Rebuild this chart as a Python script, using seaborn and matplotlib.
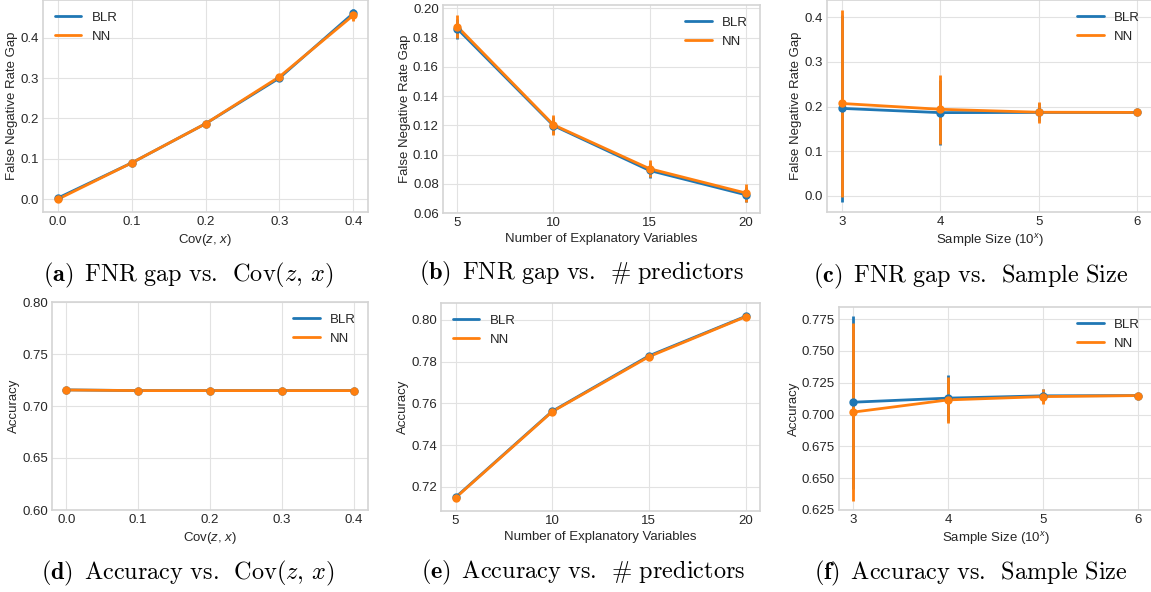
import numpy as np
import pandas as pd
import matplotlib
matplotlib.use("Agg")
import matplotlib.pyplot as plt
import seaborn as sns

sns.set_style("whitegrid")
plt.rcParams.update({
    'font.family': ['Liberation Sans', 'DejaVu Sans'],
    'mathtext.fontset': 'custom',
    'mathtext.it': 'Liberation Sans:italic',
    'mathtext.rm': 'Liberation Sans',
    'font.size': 9.5,
    'axes.labelsize': 9.5,
    'xtick.labelsize': 9.5,
    'ytick.labelsize': 9.5,
    'legend.fontsize': 9.5,
    'axes.edgecolor': '#d4d4d4',
    'grid.color': '#e2e2e2',
})

BLUE = '#1f77b4'
ORANGE = '#ff7f0e'

# x values
cov = [0.0, 0.1, 0.2, 0.3, 0.4]
n_vars = [5, 10, 15, 20]
log_n = [3, 4, 5, 6]

# FNR gap
fnr_cov_blr = [0.003, 0.090, 0.187, 0.300, 0.460]
fnr_cov_blr_err = [0.003, 0.003, 0.003, 0.005, 0.010]
fnr_cov_nn = [0.000, 0.090, 0.187, 0.303, 0.455]
fnr_cov_nn_err = [0.003, 0.003, 0.004, 0.006, 0.014]

fnr_vars_blr = [0.1860, 0.1198, 0.0891, 0.0725]
fnr_vars_blr_err = [0.0070, 0.0060, 0.0050, 0.0050]
fnr_vars_nn = [0.1875, 0.1203, 0.0903, 0.0737]
fnr_vars_nn_err = [0.0077, 0.0070, 0.0060, 0.0060]

fnr_size_blr = [0.196, 0.1865, 0.187, 0.187]
fnr_size_blr_err = [0.209, 0.072, 0.020, 0.003]
fnr_size_nn = [0.207, 0.194, 0.1874, 0.187]
fnr_size_nn_err = [0.209, 0.077, 0.024, 0.003]

# Accuracy
acc_cov_blr = [0.7155, 0.7148, 0.7148, 0.7148, 0.7148]
acc_cov_blr_err = [0.0005, 0.0005, 0.0005, 0.0005, 0.0005]
acc_cov_nn = [0.7154, 0.7148, 0.7148, 0.7148, 0.7148]
acc_cov_nn_err = [0.0005, 0.0005, 0.0005, 0.0005, 0.0005]

acc_vars_blr = [0.7150, 0.7562, 0.7827, 0.8016]
acc_vars_blr_err = [0.0010, 0.0010, 0.0010, 0.0008]
acc_vars_nn = [0.7148, 0.7560, 0.7823, 0.8014]
acc_vars_nn_err = [0.0010, 0.0010, 0.0010, 0.0008]

acc_size_blr = [0.7097, 0.7129, 0.7147, 0.7149]
acc_size_blr_err = [0.068, 0.018, 0.005, 0.001]
acc_size_nn = [0.7019, 0.7115, 0.7141, 0.7149]
acc_size_nn_err = [0.070, 0.018, 0.006, 0.001]

W, H = 1151, 592
fig = plt.figure(figsize=(W / 100, H / 100), dpi=100)


def add_ax(left, top, right, bottom):
    return fig.add_axes([left / W, 1 - bottom / H, (right - left) / W, (bottom - top) / H])


def panel(ax, x, blr, blr_err, nn, nn_err, xlabel, ylabel, ylim, yticks, xticks, legend_loc):
    df = pd.DataFrame({
        'x': list(x) * 2,
        'value': list(blr) + list(nn),
        'model': ['BLR'] * len(x) + ['NN'] * len(x),
    })
    sns.lineplot(data=df, x='x', y='value', hue='model', palette=[BLUE, ORANGE],
                 lw=2, errorbar=None, ax=ax)
    handles, labels = ax.get_legend_handles_labels()
    ax.errorbar(x, blr, yerr=blr_err, fmt='o', color=BLUE, ms=5, elinewidth=2, capsize=0)
    ax.errorbar(x, nn, yerr=nn_err, fmt='o', color=ORANGE, ms=5, elinewidth=2, capsize=0)
    ax.legend(handles, labels, loc=legend_loc, frameon=False, handlelength=2.0)
    ax.set_xlabel(xlabel, labelpad=3)
    ax.set_ylabel(ylabel, labelpad=1.5)
    ax.set_xticks(xticks)
    ax.set_yticks(yticks)
    ax.set_ylim(*ylim)
    ax.tick_params(colors='#262626', length=0, pad=3)
    for s in ax.spines.values():
        s.set_linewidth(1.2)


ax = add_ax(43, 0, 368, 212)
panel(ax, cov, fnr_cov_blr, fnr_cov_blr_err, fnr_cov_nn, fnr_cov_nn_err,
      r'Cov($z$, $x$)', 'False Negative Rate Gap', (-0.0314, 0.493),
      [0.0, 0.1, 0.2, 0.3, 0.4], cov, 'upper left')

ax = add_ax(443, 5, 760, 213)
panel(ax, n_vars, fnr_vars_blr, fnr_vars_blr_err, fnr_vars_nn, fnr_vars_nn_err,
      'Number of Explanatory Variables', 'False Negative Rate Gap', (0.06, 0.2023),
      [0.06, 0.08, 0.10, 0.12, 0.14, 0.16, 0.18, 0.20], n_vars, 'upper right')

ax = add_ax(827, 0, 1152, 212)
panel(ax, log_n, fnr_size_blr, fnr_size_blr_err, fnr_size_nn, fnr_size_nn_err,
      r'Sample Size (10$^x$)', 'False Negative Rate Gap', (-0.0358, 0.4385),
      [0.0, 0.1, 0.2, 0.3, 0.4], log_n, 'upper right')

ax = add_ax(52, 302, 368, 510)
panel(ax, cov, acc_cov_blr, acc_cov_blr_err, acc_cov_nn, acc_cov_nn_err,
      r'Cov($z$, $x$)', 'Accuracy', (0.6, 0.8),
      [0.60, 0.65, 0.70, 0.75, 0.80], cov, 'upper right')

ax = add_ax(441, 303, 760, 511)
panel(ax, n_vars, acc_vars_blr, acc_vars_blr_err, acc_vars_nn, acc_vars_nn_err,
      'Number of Explanatory Variables', 'Accuracy', (0.7085, 0.808),
      [0.72, 0.74, 0.76, 0.78, 0.80], n_vars, 'upper left')

ax = add_ax(839, 307, 1152, 510)
panel(ax, log_n, acc_size_blr, acc_size_blr_err, acc_size_nn, acc_size_nn_err,
      r'Sample Size (10$^x$)', 'Accuracy', (0.625, 0.7845),
      [0.625, 0.650, 0.675, 0.700, 0.725, 0.750, 0.775], log_n, 'upper right')

sp = r'\ '
lp = r'\ \,'
captions = [
    (188, 275, r'$\mathbf{(a)}' + lp + r'\mathrm{FNR' + sp + 'gap' + sp + 'vs.' + lp + r'Cov}(z,\, x)$'),
    (581, 273, r'$\mathbf{(b)}' + lp + r'\mathrm{FNR' + sp + 'gap' + sp + 'vs.' + lp + r'\#' + sp + r'predictors}$'),
    (971, 276, r'$\mathbf{(c)}' + lp + r'\mathrm{FNR' + sp + 'gap' + sp + 'vs.' + lp + r'Sample\ Size}$'),
    (188, 573, r'$\mathbf{(d)}' + lp + r'\mathrm{Accuracy' + sp + 'vs.' + lp + r'Cov}(z,\, x)$'),
    (583, 572, r'$\mathbf{(e)}' + lp + r'\mathrm{Accuracy' + sp + 'vs.' + lp + r'\#' + sp + r'predictors}$'),
    (971, 573, r'$\mathbf{(f)}' + lp + r'\mathrm{Accuracy' + sp + 'vs.' + lp + r'Sample\ Size}$'),
]
for cx, cy, txt in captions:
    fig.text(cx / W, 1 - cy / H, txt, ha='center', va='center', fontsize=17.5,
             math_fontfamily='cm', color='black')

fig.savefig('out.png', dpi=100)
